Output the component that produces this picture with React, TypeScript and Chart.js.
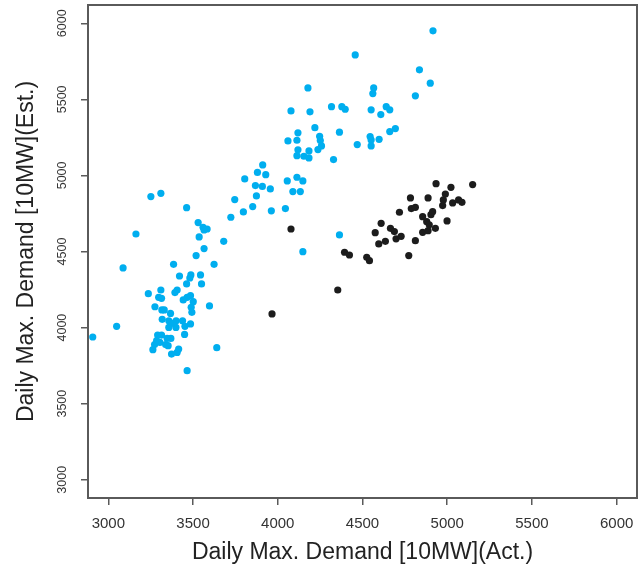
import React, { useEffect, useRef } from "react";
import { Chart, registerables } from "chart.js";

Chart.register(...registerables);

const xTicks = [3000, 3500, 4000, 4500, 5000, 5500, 6000];
const yTicks = [3000, 3500, 4000, 4500, 5000, 5500, 6000];
const axisMin = 2880;
const axisMax = 6120;

const xTitle = "Daily Max. Demand [10MW](Act.)";
const yTitle = "Daily Max. Demand [10MW](Est.)";

// Blue series (actual, estimated)
const blueX = [
  3805, 3880, 3929, 3868, 3909, 3956, 3251, 3310, 3746, 3874, 3462, 3852, 3797, 3962, 3723, 3530,
  3559, 3583, 3565, 3163, 3536, 3681, 3565, 3518, 3385, 3624, 3087, 3420, 3487, 3481, 3544, 3462,
  3550, 3310, 3406, 3393, 3236, 3297, 3314, 3465, 3485, 3442, 3501, 3275, 3489, 3597, 3316, 3330,
  3493, 3367, 3318, 3357, 3400, 3438, 3383, 3485, 3049, 3357, 3399, 3452, 3450, 3291, 3314, 3347,
  3369, 2908, 3285, 3304, 3273, 3338, 3353, 3640, 3263, 3415, 3406, 3373, 3465,
  4916, 4457, 4836, 4900, 4178, 4566, 4561, 4812, 4078, 4190, 4317, 4378, 4398, 4551, 4640, 4661,
  4608, 4219, 4364, 4661, 4694, 4119, 4247, 4251, 4060, 4113, 4545, 4551, 4598, 4469, 4551, 4258,
  4237, 4119, 4184, 4113, 4154, 4184, 4329, 3911, 4113, 4056, 4148, 4089, 4133, 4045, 4364, 4148,
];
const blueY = [
  4977, 5020, 5005, 4933, 4928, 4911, 4861, 4882, 4841, 4865, 4788, 4795, 4760, 4767, 4725, 4690,
  4659, 4648, 4642, 4615, 4596, 4567, 4519, 4473, 4416, 4416, 4392, 4339, 4346, 4326, 4346, 4287,
  4287, 4247, 4247, 4230, 4223, 4199, 4192, 4199, 4210, 4182, 4170, 4137, 4133, 4142, 4116, 4116,
  4100, 4093, 4054, 4045, 4045, 4045, 4028, 4024, 4008, 4001, 4001, 4008, 3955, 3951, 3951, 3929,
  3929, 3938, 3914, 3903, 3888, 3888, 3881, 3868, 3855, 3859, 3837, 3826, 3717,
  5950, 5792, 5694, 5606, 5575, 5575, 5538, 5523, 5424, 5418, 5452, 5452, 5435, 5431, 5452, 5431,
  5400, 5314, 5284, 5288, 5308, 5280, 5257, 5229, 5227, 5231, 5255, 5233, 5237, 5203, 5194, 5194,
  5170, 5168, 5161, 5130, 5126, 5115, 5104, 5069, 4988, 4964, 4964, 4894, 4894, 4782, 4609, 4499,
];

// Black series (actual, estimated)
const blackX = [
  3966, 4078, 4354, 4394, 4423, 4525, 4541, 4575, 4596, 4610, 4635, 4665, 4688, 4698, 4718, 4728,
  4773, 4783, 4788, 4812, 4812, 4855, 4855, 4879, 4887, 4887, 4894, 4904, 4914, 4930, 4934, 4973,
  4977, 4989, 4999, 5022, 5032, 5067, 5087, 5150,
];
const blackY = [
  4090, 4648, 4247, 4495, 4477, 4462, 4440, 4624, 4550, 4685, 4567, 4652, 4631, 4583, 4758, 4600,
  4473, 4852, 4782, 4790, 4571, 4729, 4626, 4696, 4852, 4637, 4675, 4742, 4762, 4652, 4946, 4802,
  4839, 4878, 4701, 4922, 4819, 4839, 4823, 4940,
];

const FONT = "'Liberation Sans', Arial, Helvetica, sans-serif";

const boxPlugin = {
  id: "rbox",
  afterDraw(chart: any) {
    const { ctx, chartArea } = chart;
    ctx.save();
    ctx.strokeStyle = "#5a5a5a";
    ctx.lineWidth = 2;
    ctx.strokeRect(chartArea.left, chartArea.top, chartArea.right - chartArea.left, chartArea.bottom - chartArea.top);
    ctx.restore();
  },
};

export default function App() {
  const ref = useRef<HTMLCanvasElement | null>(null);

  useEffect(() => {
    if (!ref.current) return;
    const toPts = (xs: number[], ys: number[]) => xs.map((x, i) => ({ x, y: ys[i] }));
    const chart = new Chart(ref.current, {
      type: "scatter",
      data: {
        datasets: [
          {
            data: toPts(blueX, blueY),
            backgroundColor: "#00aeef",
            borderWidth: 0,
            pointRadius: 3.6,
          },
          {
            data: toPts(blackX, blackY),
            backgroundColor: "#1c1c1c",
            borderWidth: 0,
            pointRadius: 3.6,
          },
        ],
      },
      options: {
        responsive: false,
        animation: false,
        events: [],
        layout: { padding: { top: 5, right: 6, left: 0, bottom: 0 } },
        plugins: { legend: { display: false }, tooltip: { enabled: false } },
        scales: {
          x: {
            type: "linear",
            min: axisMin,
            max: axisMax,
            afterBuildTicks: (s: any) => {
              s.ticks = xTicks.map((v) => ({ value: v }));
            },
            afterFit: (s: any) => {
              s.height = 72;
              s.paddingLeft = 0;
              s.paddingRight = 0;
            },
            border: { display: false },
            grid: { drawOnChartArea: false, drawTicks: true, tickLength: 7, color: "#5a5a5a", lineWidth: 1.5 },
            ticks: {
              maxRotation: 0,
              minRotation: 0,
              padding: 10,
              color: "#333",
              font: { family: FONT, size: 15 },
              callback: (v: any) => String(v),
            },
            title: {
              display: true,
              text: xTitle,
              color: "#222",
              font: { family: FONT, size: 23 },
              padding: { top: 0, bottom: 4 },
            },
          },
          y: {
            type: "linear",
            min: axisMin,
            max: axisMax,
            afterBuildTicks: (s: any) => {
              s.ticks = yTicks.map((v) => ({ value: v }));
            },
            afterFit: (s: any) => {
              s.width = 88;
              s.paddingTop = 0;
              s.paddingBottom = 0;
            },
            border: { display: false },
            grid: { drawOnChartArea: false, drawTicks: true, tickLength: 7, color: "#5a5a5a", lineWidth: 1.5 },
            ticks: {
              minRotation: 90,
              maxRotation: 90,
              crossAlign: "center",
              padding: 5,
              color: "#333",
              font: { family: FONT, size: 12.5 },
              callback: (v: any) => String(v),
            },
            title: {
              display: true,
              text: yTitle,
              color: "#222",
              font: { family: FONT, size: 23 },
              padding: { top: 13, bottom: 0 },
            },
          },
        },
      },
      plugins: [boxPlugin],
    });
    return () => chart.destroy();
  }, []);

  return (
    <div style={{ position: "fixed", left: 0, top: 0, width: 643, height: 570, background: "#fff" }}>
      <canvas ref={ref} width={643} height={570} style={{ width: 643, height: 570, display: "block" }} />
    </div>
  );
}
